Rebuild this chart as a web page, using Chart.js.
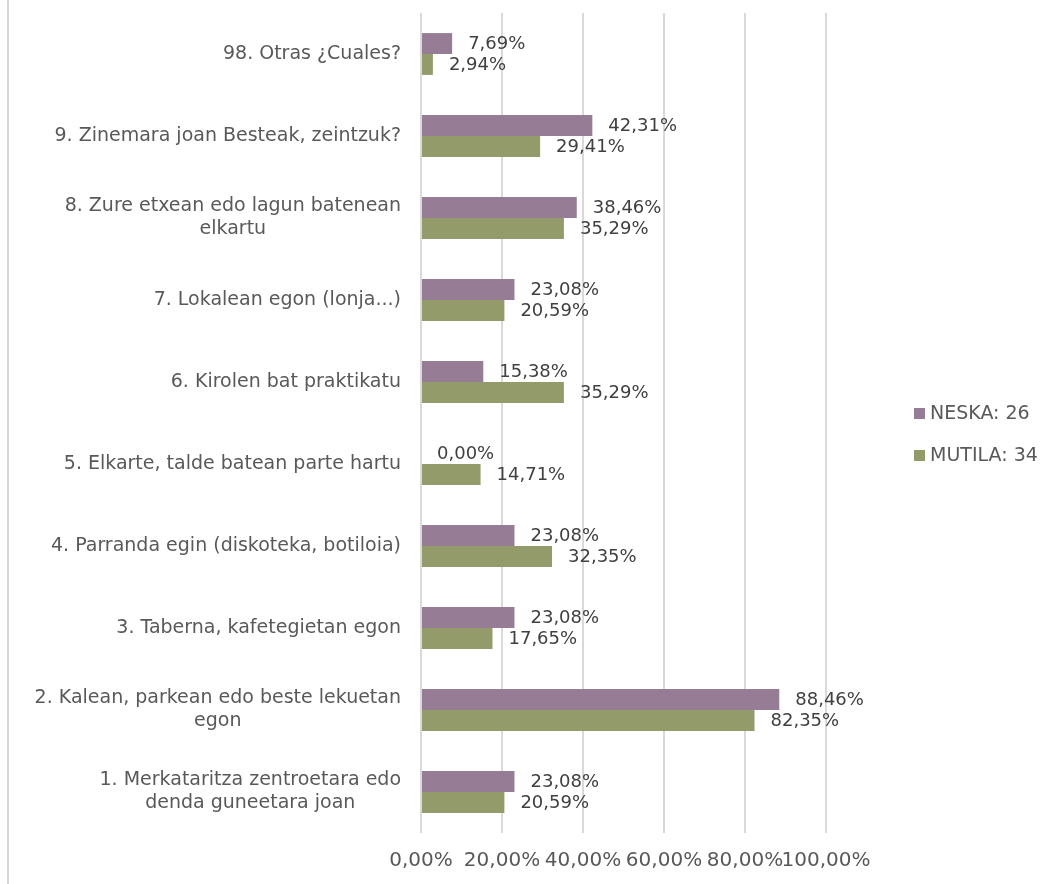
<!DOCTYPE html>
<html>
<head>
<meta charset="utf-8">
<title>Aisialdia</title>
<script src="https://cdn.jsdelivr.net/npm/chart.js@4/dist/chart.umd.min.js"></script>
<style>
    html, body { margin: 0; padding: 0; background: #fff; }
    #wrap { position: relative; width: 1056px; height: 884px; }
    /* chart frame, only the left edge is in the picture */
    #wrap::before { content: ''; position: absolute; left: 7px; top: 0; bottom: 0; border-left: 2px solid #d9d9d9; }
</style>
</head>
<body>
<div id="wrap"><canvas id="chart"></canvas></div>
<script>
// categories, top to bottom
const CATEGORIES = [
    '98. Otras ¿Cuales?',
    '9. Zinemara joan Besteak, zeintzuk?',
    ['8. Zure etxean edo lagun batenean', 'elkartu'],
    '7. Lokalean egon (lonja...)',
    '6. Kirolen bat praktikatu',
    '5. Elkarte, talde batean parte hartu',
    '4. Parranda egin (diskoteka, botiloia)',
    '3. Taberna, kafetegietan egon',
    ['2. Kalean, parkean edo beste lekuetan', 'egon'],
    ['1. Merkataritza zentroetara edo', 'denda guneetara joan']
];
const SERIES_NAMES = ['NESKA: 26', 'MUTILA: 34'];
const NESKA  = [7.69, 42.31, 38.46, 23.08, 15.38, 0.00, 23.08, 23.08, 88.46, 23.08];
const MUTILA = [2.94, 29.41, 35.29, 20.59, 35.29, 14.71, 32.35, 17.65, 82.35, 20.59];
const X_TICKS = [0, 20, 40, 60, 80, 100];

const COLORS = ['#967d95', '#939b6b'];
const FONT = '"DejaVu Sans", sans-serif';
const pct = v => v.toFixed(2).replace('.', ',') + '%';

Chart.defaults.font.family = FONT;
Chart.defaults.font.size = 20;
Chart.defaults.color = '#595959';

// category labels: block right-aligned, lines centred inside the block
const yLabels = {
    id: 'yLabels',
    afterDraw(chart) {
        const ctx = chart.ctx, scale = chart.scales.y;
        const right = chart.chartArea.left - 20, lineH = 23;
        ctx.save();
        ctx.font = '19px ' + FONT;
        ctx.fillStyle = '#595959';
        ctx.textAlign = 'center';
        ctx.textBaseline = 'middle';
        CATEGORIES.forEach((lab, i) => {
            const lines = [].concat(lab);
            const w = Math.max(...lines.map(l => ctx.measureText(l).width));
            const y0 = scale.getPixelForTick(i) - (lines.length - 1) * lineH / 2;
            lines.forEach((l, k) => ctx.fillText(l, right - w / 2, y0 + k * lineH));
        });
        ctx.restore();
    }
};

// value labels after the bar end
const valueLabels = {
    id: 'valueLabels',
    afterDatasetsDraw(chart) {
        const ctx = chart.ctx;
        ctx.save();
        ctx.font = '18px ' + FONT;
        ctx.fillStyle = '#404040';
        ctx.textAlign = 'left';
        ctx.textBaseline = 'middle';
        chart.data.datasets.forEach((ds, di) => {
            chart.getDatasetMeta(di).data.forEach((bar, i) => {
                ctx.fillText(pct(ds.data[i]), bar.x + 16, bar.y + 1);
            });
        });
        ctx.restore();
    }
};

// legend on the right
const sideLegend = {
    id: 'sideLegend',
    afterDraw(chart) {
        const ctx = chart.ctx;
        const x = 914, y0 = 414, step = 42;
        ctx.save();
        ctx.font = '19px ' + FONT;
        ctx.textAlign = 'left';
        ctx.textBaseline = 'middle';
        chart.data.datasets.forEach((ds, i) => {
            const y = y0 + i * step;
            ctx.fillStyle = ds.backgroundColor;
            ctx.fillRect(x, y - 6, 11, 11);
            ctx.fillStyle = '#595959';
            ctx.fillText(ds.label, x + 16, y);
        });
        ctx.restore();
    }
};

new Chart(document.getElementById('chart').getContext('2d'), {
    type: 'bar',
    data: {
        labels: CATEGORIES,
        datasets: [
            { label: SERIES_NAMES[0], data: NESKA,  backgroundColor: COLORS[0] },
            { label: SERIES_NAMES[1], data: MUTILA, backgroundColor: COLORS[1] }
        ]
    },
    options: {
        indexAxis: 'y',
        responsive: true,
        maintainAspectRatio: false,
        animation: false,
        categoryPercentage: 0.51,
        barPercentage: 1,
        layout: { padding: { top: 13, bottom: 10, left: 0, right: 230 } },
        plugins: { legend: { display: false }, tooltip: { enabled: false } },
        scales: {
            x: {
                min: 0,
                max: 100,
                afterBuildTicks: s => { s.ticks = X_TICKS.map(v => ({ value: v })); },
                afterFit: s => { s.height = 41; },
                grid: { color: '#d9d9d9', lineWidth: 2, drawTicks: false },
                border: { display: false },
                ticks: { padding: 16, maxRotation: 0, autoSkip: false, callback: v => pct(v) }
            },
            y: {
                grid: { display: false },
                border: { display: false },
                ticks: { display: false },
                afterFit: s => { s.width = 421; }
            }
        }
    },
    plugins: [yLabels, valueLabels, sideLegend]
});
</script>
</body>
</html>
